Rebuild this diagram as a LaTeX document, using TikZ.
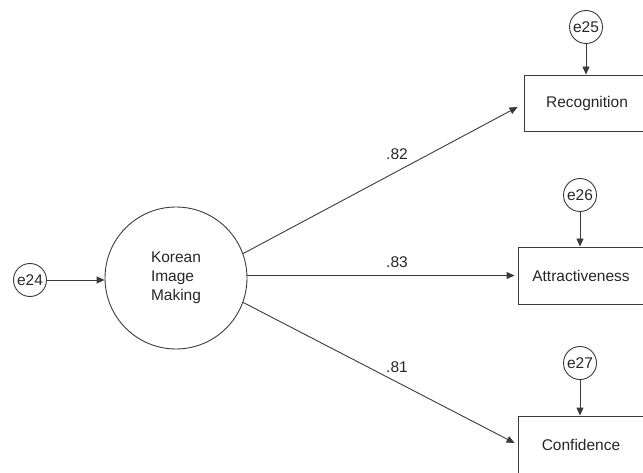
\documentclass[tikz,border=0pt]{standalone}
\usepackage{fontspec}
\setmainfont{Liberation Sans}
\usetikzlibrary{arrows.meta}
\definecolor{ln}{HTML}{3A3A3A}
\tikzset{
  every node/.style={font=\fontsize{15.5}{19}\selectfont, text=black!85},
  latent/.style={circle, draw=ln, line width=0.9pt, minimum size=142pt, inner sep=0pt, align=left},
  errc/.style={circle, draw=ln, line width=0.9pt, minimum size=33pt, inner sep=0pt},
  obs/.style={rectangle, draw=ln, line width=0.9pt, minimum width=126pt, minimum height=56pt, inner sep=0pt},
  path/.style={draw=ln, line width=0.9pt, -{Triangle[length=8pt,width=7pt]}},
  lbl/.style={inner sep=0pt}
}
\begin{document}
\begin{tikzpicture}[x=1pt,y=-1pt]
\useasboundingbox (0,0) rectangle (643,473);
\clip (0,0) rectangle (643,473);
\node[latent] (km) at (176,278) {Korean\\Image\\Making};
\node[errc] (e24) at (30,280) {e24};
\node[obs] (rec) at (587,103) {Recognition};
\node[obs, minimum height=57pt] (att) at (581,275.5) {Attractiveness};
\node[obs, minimum height=57pt] (con) at (581,444.5) {Confidence};
\node[errc] (e25) at (586,27) {e25};
\node[errc] (e26) at (580,195) {e26};
\node[errc] (e27) at (580,363) {e27};
\draw[path] (e24) -- (e24 -| km.west);
\draw[path] (km.20) -- ([xshift=-6pt,yshift=-4pt]rec.west);
\draw[path] (km.east |- att.west) -- ([xshift=-3pt]att.west);
\draw[path] (km.-20) -- ([xshift=-3pt,yshift=1.5pt]con.west);
\draw[path] (e25) -- (e25 |- rec.north);
\draw[path] (e26) -- (e26 |- att.north);
\draw[path] (e27) -- (e27 |- con.north);
\node[lbl] (l82) at (397,154) {.82};
\node[lbl] (l83) at (397,262) {.83};
\node[lbl] (l81) at (397,367) {.81};
\end{tikzpicture}
\end{document}
